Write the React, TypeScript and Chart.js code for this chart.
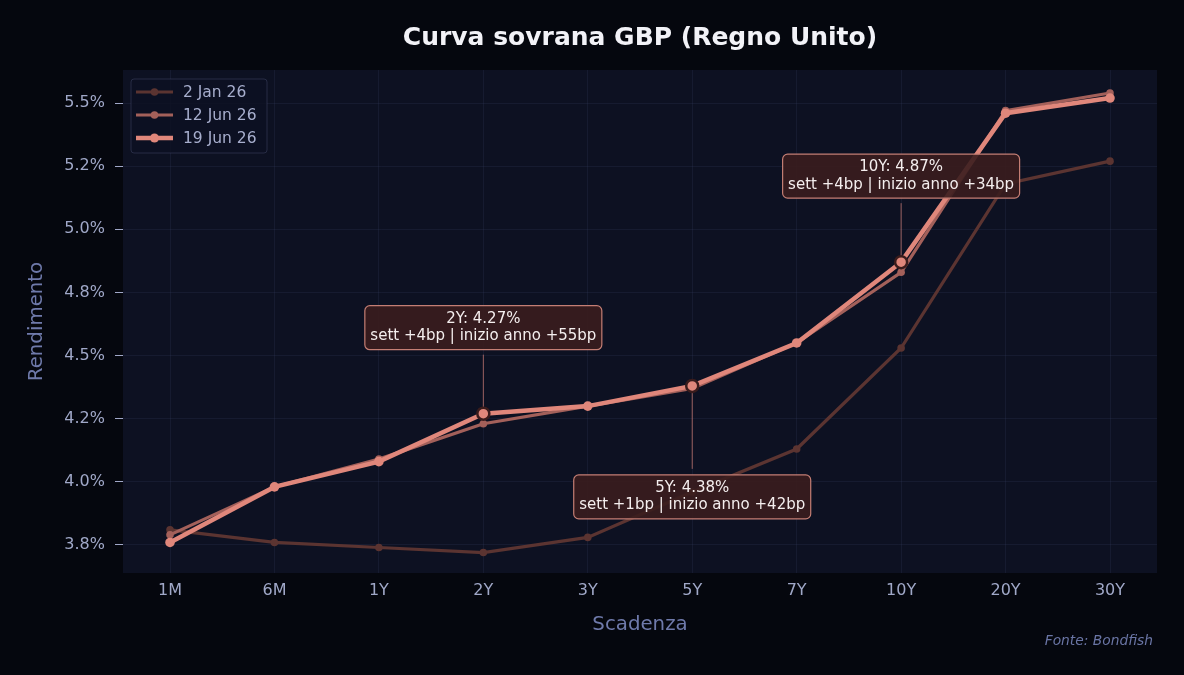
import React, { useEffect, useRef } from "react";
import { Chart, registerables } from "chart.js";

Chart.register(...registerables);

// Maturities on the x axis
const categories = ["1M", "6M", "1Y", "2Y", "3Y", "5Y", "7Y", "10Y", "20Y", "30Y"];

// Yields (%) for each curve date
const jan2 = [3.81, 3.76, 3.74, 3.72, 3.78, 3.96, 4.13, 4.53, 5.18, 5.27];
const jun12 = [3.79, 3.98, 4.09, 4.23, 4.3, 4.37, 4.55, 4.83, 5.47, 5.54];
const jun19 = [3.76, 3.98, 4.08, 4.27, 4.3, 4.38, 4.55, 4.87, 5.46, 5.52];

const seriesNames = ["2 Jan 26", "12 Jun 26", "19 Jun 26"];

// Y axis ticks and the labels printed next to them
const yTickValues = [3.75, 4.0, 4.25, 4.5, 4.75, 5.0, 5.25, 5.5];
const yTickLabels = ["3.8%", "4.0%", "4.2%", "4.5%", "4.8%", "5.0%", "5.2%", "5.5%"];

// Maturities called out with a label box
const highlighted = ["2Y", "5Y", "10Y"];

const FONT = "'DejaVu Sans', sans-serif";
const BG = "#05070e";
const PLOT_BG = "#0d1122";
const GRID = "rgba(60,68,105,0.2)";

const toPoints = (vals: number[]) => vals.map((y, i) => ({ x: i, y }));

export default function App() {
  const canvasRef = useRef<HTMLCanvasElement | null>(null);

  useEffect(() => {
    const canvas = canvasRef.current;
    if (!canvas) return;

    const hiIdx = highlighted.map((c) => categories.indexOf(c));

    const decorations = {
      id: "decorations",
      beforeDraw(chart: any) {
        const { ctx, chartArea: a } = chart;
        ctx.save();
        ctx.fillStyle = BG;
        ctx.fillRect(0, 0, chart.width, chart.height);
        ctx.fillStyle = PLOT_BG;
        ctx.fillRect(a.left, a.top, a.right - a.left, a.bottom - a.top);
        ctx.restore();
      },
      afterDatasetsDraw(chart: any) {
        const { ctx, scales } = chart;
        const xs = scales.x;
        const ys = scales.y;
        ctx.save();

        // callout boxes for highlighted maturities
        const offsets: Record<string, number> = { "2Y": -86, "5Y": 111, "10Y": -86 };
        hiIdx.forEach((i) => {
          const cat = categories[i];
          const v = jun19[i];
          const px = xs.getPixelForValue(i);
          const py = ys.getPixelForValue(v);
          const wk = Math.round((v - jun12[i]) * 100);
          const ytd = Math.round((v - jan2[i]) * 100);
          const sgn = (n: number) => (n >= 0 ? "+" : "") + n;
          const l1 = `${cat}: ${v.toFixed(2)}%`;
          const l2 = `sett ${sgn(wk)}bp | inizio anno ${sgn(ytd)}bp`;
          ctx.font = `15px ${FONT}`;
          const w = Math.max(ctx.measureText(l1).width, ctx.measureText(l2).width) + 11;
          const h = 44;
          const cy = py + offsets[cat];
          const bx = px - w / 2;
          const by = cy - h / 2;

          // connector
          ctx.strokeStyle = "rgba(200,120,112,0.75)";
          ctx.lineWidth = 1;
          ctx.beginPath();
          if (cy < py) {
            ctx.moveTo(px, by + h + 5);
            ctx.lineTo(px, py - 6);
          } else {
            ctx.moveTo(px, py + 6);
            ctx.lineTo(px, by - 6);
          }
          ctx.stroke();

          // box
          ctx.beginPath();
          ctx.roundRect(bx, by, w, h, 5);
          ctx.fillStyle = "rgba(58,29,30,0.9)";
          ctx.fill();
          ctx.strokeStyle = "#c47e74";
          ctx.lineWidth = 1.2;
          ctx.stroke();

          ctx.fillStyle = "#f4eeee";
          ctx.textAlign = "center";
          ctx.textBaseline = "middle";
          ctx.fillText(l1, px, cy - 9);
          ctx.fillText(l2, px, cy + 8.5);

          // highlighted marker
          ctx.beginPath();
          ctx.arc(px, py, 6, 0, Math.PI * 2);
          ctx.fillStyle = "#e0877b";
          ctx.fill();
          ctx.lineWidth = 2.5;
          ctx.strokeStyle = "#3a1c1c";
          ctx.stroke();
        });

        // legend
        const lx = 131, ly = 79, lw = 136, lh = 74;
        ctx.beginPath();
        ctx.roundRect(lx, ly, lw, lh, 3);
        ctx.fillStyle = "rgba(13,17,34,0.85)";
        ctx.fill();
        ctx.strokeStyle = "rgba(70,78,110,0.45)";
        ctx.lineWidth = 1;
        ctx.stroke();
        chart.data.datasets.forEach((ds: any, k: number) => {
          const y = ly + 13 + k * 23;
          ctx.strokeStyle = ds.borderColor;
          ctx.lineWidth = ds.borderWidth;
          ctx.beginPath();
          ctx.moveTo(136, y);
          ctx.lineTo(173, y);
          ctx.stroke();
          ctx.beginPath();
          ctx.arc(154.5, y, k === 2 ? 4.5 : 3.8, 0, Math.PI * 2);
          ctx.fillStyle = ds.borderColor;
          ctx.fill();
          ctx.fillStyle = "#a7aecd";
          ctx.font = `15.5px ${FONT}`;
          ctx.textAlign = "left";
          ctx.textBaseline = "middle";
          ctx.fillText(ds.label, 183, y + 0.5);
        });

        ctx.restore();
      },
      afterDraw(chart: any) {
        const { ctx, chartArea: a } = chart;
        ctx.save();
        // title
        ctx.fillStyle = "#f2f2f7";
        ctx.font = `bold 25px ${FONT}`;
        ctx.textAlign = "center";
        ctx.textBaseline = "middle";
        ctx.fillText("Curva sovrana GBP (Regno Unito)", (a.left + a.right) / 2, 38);
        // axis titles
        ctx.fillStyle = "#6f7aab";
        ctx.font = `19.8px ${FONT}`;
        ctx.fillText("Scadenza", (a.left + a.right) / 2, 625);
        ctx.translate(37, (a.top + a.bottom) / 2);
        ctx.rotate(-Math.PI / 2);
        ctx.fillText("Rendimento", 0, 0);
        ctx.setTransform(1, 0, 0, 1, 0, 0);
        // source
        ctx.font = `italic 13.8px ${FONT}`;
        ctx.fillStyle = "#6a75a5";
        ctx.textAlign = "right";
        ctx.fillText("Fonte: Bondfish", 1153, 641);
        ctx.restore();
      },
    };

    const series = [jan2, jun12, jun19];
    const colors = ["#5b3431", "#a3605a", "#e0877b"];
    const widths = [3.2, 3.2, 4.5];
    const radii = [3.8, 3.8, 4.8];

    const chart = new Chart(canvas, {
      type: "line",
      data: {
        datasets: series.map((vals, k) => ({
          label: seriesNames[k],
          data: toPoints(vals),
          borderColor: colors[k],
          backgroundColor: colors[k],
          pointBackgroundColor: colors[k],
          pointBorderWidth: 0,
          borderWidth: widths[k],
          pointRadius: radii[k],
          order: 3 - k,
          tension: 0,
        })),
      },
      options: {
        responsive: false,
        animation: false,
        events: [],
        layout: { padding: { top: 70, right: 27, left: 0, bottom: 0 } },
        plugins: {
          legend: { display: false },
          tooltip: { enabled: false },
          title: { display: false },
        },
        scales: {
          x: {
            type: "linear",
            min: -0.45,
            max: 9.45,
            afterBuildTicks: (s: any) => {
              s.ticks = categories.map((_, i) => ({ value: i }));
            },
            afterFit: (s: any) => {
              s.height = 102;
            },
            ticks: {
              callback: (v: any) => categories[v as number] ?? "",
              color: "#a0a8c8",
              font: { family: FONT, size: 16 },
              padding: 8,
              autoSkip: false,
              maxRotation: 0,
            },
            grid: { color: GRID, drawTicks: false, lineWidth: 1 },
            border: { display: false },
          },
          y: {
            type: "linear",
            min: 3.639,
            max: 5.631,
            afterBuildTicks: (s: any) => {
              s.ticks = yTickValues.map((value) => ({ value }));
            },
            afterFit: (s: any) => {
              s.width = 123;
            },
            ticks: {
              callback: (v: any) => yTickLabels[yTickValues.indexOf(v as number)] ?? "",
              color: "#a0a8c8",
              font: { family: FONT, size: 16 },
              padding: 10,
            },
            grid: { color: GRID, drawTicks: true, tickLength: 8, tickColor: "#a0a8c8", lineWidth: 1 },
            border: { display: false },
          },
        },
      },
      plugins: [decorations],
    } as any);

    return () => chart.destroy();
  }, []);

  return (
    <div style={{ position: "fixed", left: 0, top: 0, width: 1184, height: 675, background: BG }}>
      <canvas ref={canvasRef} width={1184} height={675} style={{ display: "block" }} />
    </div>
  );
}
